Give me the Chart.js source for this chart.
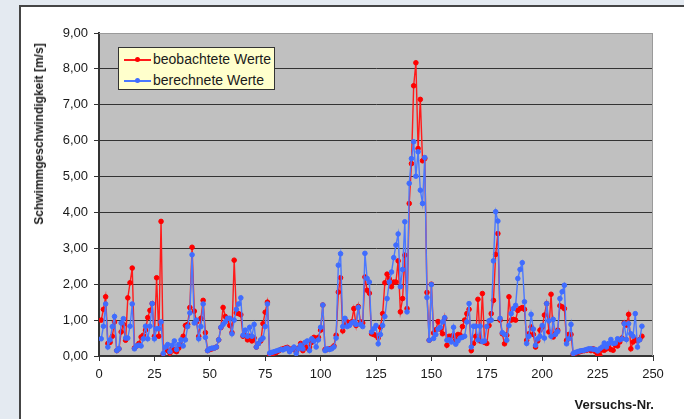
<!DOCTYPE html>
<html lang="de">
<head>
<meta charset="utf-8">
<script src="https://cdn.jsdelivr.net/npm/chart.js@4.4.1/dist/chart.umd.min.js"></script>
<style>
  html, body { margin:0; padding:0; }
  body { width:684px; height:419px; overflow:hidden; background:#e4eaf1; position:relative;
         font-family:'Liberation Sans', Arial, sans-serif; color:#1a1a1a; }
  #rahmen { position:absolute; left:19px; top:5px; width:720px; height:460px; background:#fff;
            border-left:2px solid #454545; border-top:2px solid #454545; }
  #chart { position:absolute; left:0; top:0; }
  #legende { position:absolute; left:118px; top:47px; width:155px; height:41px;
             background:#ffffcc; border:1px solid #333; }
  .eintrag { position:absolute; left:0; height:20px; width:155px; }
  .eintrag .linie { position:absolute; left:5px; top:9px; width:27px; height:1.5px; }
  .eintrag .punkt { position:absolute; left:16px; top:7px; width:5px; height:5px; border-radius:50%; }
  .eintrag span { position:absolute; left:34px; top:1px; font-size:14px; white-space:nowrap; }
  #ytitel { position:absolute; left:39px; top:134px; transform:translate(-50%,-50%) rotate(-90deg);
            font-weight:bold; font-size:12px; white-space:nowrap; }
  #xtitel { position:absolute; right:30px; top:397px; font-weight:bold; font-size:13px; white-space:nowrap; }
</style>
</head>
<body>
<div id="rahmen"></div>
<canvas id="chart" width="684" height="419"></canvas>
<div id="legende">
  <div class="eintrag" style="top:2px"><div class="linie" style="background:#ff1a1a"></div><div class="punkt" style="background:#ff0000"></div><span>beobachtete Werte</span></div>
  <div class="eintrag" style="top:23px"><div class="linie" style="background:#4a78ff"></div><div class="punkt" style="background:#3f6cff"></div><span>berechnete Werte</span></div>
</div>
<div id="ytitel">Schwimmgeschwindigkeit [m/s]</div>
<div id="xtitel">Versuchs-Nr.</div>

<script>
// Messreihen (Versuchs-Nr. 1 bis 245)
const ersterVersuch = 1;

const beobachtet = [
  1.00, 1.30, 1.65, 0.35, 0.38, 0.55, 0.95, 0.15, 0.20, 0.67,
  0.88, 0.44, 1.62, 2.04, 2.45, 0.22, 0.28, 0.35, 0.53, 0.58,
  0.72, 1.07, 1.27, 1.46, 0.55, 2.18, 0.55, 3.75, 0.05, 0.20,
  0.15, 0.08, 0.22, 0.15, 0.12, 0.22, 0.32, 0.55, 0.85, 0.88,
  1.35, 3.03, 1.25, 0.95, 0.55, 1.05, 1.55, 0.65, 0.15, 0.18,
  0.20, 0.22, 0.25, 0.45, 0.79, 1.35, 1.10, 1.02, 0.85, 0.65,
  2.67, 1.20, 1.18, 1.15, 0.55, 0.58, 0.45, 0.55, 0.42, 0.50,
  0.25, 0.35, 0.42, 0.90, 1.22, 1.50, 0.03, 0.06, 0.08, 0.10,
  0.14, 0.18, 0.20, 0.22, 0.24, 0.15, 0.20, 0.18, 0.12, 0.22,
  0.35, 0.15, 0.28, 0.22, 0.25, 0.38, 0.52, 0.48, 0.52, 0.72,
  1.42, 0.18, 0.18, 0.20, 0.22, 0.28, 0.58, 1.78, 2.18, 0.70,
  0.90, 0.95, 0.92, 0.95, 1.32, 0.85, 1.38, 0.95, 0.92, 2.20,
  1.83, 1.75, 0.62, 0.60, 0.57, 0.50, 0.80, 1.18, 2.04, 2.28,
  2.15, 1.93, 2.06, 2.06, 2.65, 1.23, 1.60, 2.81, 1.32, 4.25,
  5.36, 7.53, 8.17, 5.78, 7.15, 5.44, 5.50, 1.77, 0.44, 2.00,
  0.64, 0.73, 0.96, 0.75, 0.62, 1.05, 0.30, 0.55, 0.55, 0.58,
  0.45, 0.60, 0.58, 0.82, 1.00, 1.18, 1.30, 0.15, 0.35, 0.55,
  1.58, 0.42, 1.74, 0.38, 0.35, 0.85, 1.18, 1.55, 2.83, 3.41,
  1.00, 0.62, 0.34, 0.58, 1.65, 1.00, 1.02, 1.00, 1.27, 1.32,
  1.35, 1.30, 0.44, 0.62, 0.81, 0.60, 0.25, 0.42, 0.72, 0.80,
  1.14, 1.46, 0.67, 1.72, 0.53, 0.62, 0.72, 1.40, 1.37, 1.32,
  0.44, 0.60, 0.60, 0.05, 0.08, 0.10, 0.12, 0.14, 0.15, 0.16,
  0.18, 0.15, 0.20, 0.12, 0.05, 0.02, 0.17, 0.16, 0.20, 0.25,
  0.18, 0.16, 0.30, 0.28, 0.39, 0.50, 0.92, 0.86, 1.16, 0.20,
  0.39, 0.46, 0.42, 0.46, 0.55
];

const berechnet = [
  0.48, 0.83, 1.45, 0.25, 0.45, 0.82, 1.10, 0.15, 0.20, 0.92,
  1.04, 0.50, 0.50, 0.83, 1.45, 0.20, 0.28, 0.30, 0.28, 0.48,
  0.83, 0.48, 0.83, 1.46, 0.48, 0.76, 0.76, 0.95, 0.07, 0.25,
  0.32, 0.12, 0.30, 0.42, 0.18, 0.32, 0.45, 0.28, 0.45, 0.82,
  1.20, 2.82, 0.92, 1.00, 0.48, 0.82, 1.45, 0.52, 0.15, 0.20,
  0.22, 0.22, 0.25, 0.45, 0.80, 0.88, 0.95, 1.05, 1.05, 0.62,
  1.00, 1.30, 1.45, 1.62, 0.58, 0.72, 0.55, 0.80, 0.55, 0.88,
  0.25, 0.35, 0.45, 0.50, 0.82, 1.45, 0.08, 0.10, 0.12, 0.14,
  0.16, 0.18, 0.17, 0.20, 0.22, 0.12, 0.18, 0.25, 0.07, 0.20,
  0.30, 0.20, 0.38, 0.42, 0.15, 0.48, 0.42, 0.25, 0.45, 0.80,
  1.42, 0.15, 0.20, 0.18, 0.20, 0.25, 0.50, 2.53, 2.85, 0.82,
  1.05, 0.82, 0.85, 0.92, 0.95, 0.88, 1.35, 0.88, 0.82, 2.86,
  2.16, 2.06, 0.67, 0.76, 0.85, 0.34, 0.60, 0.85, 1.10, 1.60,
  2.06, 2.34, 2.74, 3.09, 3.40, 1.93, 2.41, 3.74, 1.23, 4.81,
  5.50, 5.97, 5.01, 5.69, 4.62, 4.25, 5.53, 1.63, 0.44, 1.99,
  0.49, 0.60, 0.75, 0.80, 0.95, 1.07, 0.44, 0.45, 0.39, 0.80,
  0.33, 0.42, 0.50, 0.52, 0.55, 0.95, 1.46, 0.25, 0.83, 0.83,
  0.45, 0.83, 0.40, 0.42, 0.82, 0.98, 1.00, 2.65, 4.02, 3.76,
  1.05, 0.65, 0.60, 0.44, 0.85, 1.18, 1.32, 1.41, 2.16, 2.41,
  2.60, 1.51, 0.35, 0.55, 1.16, 0.75, 0.30, 0.48, 0.55, 0.85,
  0.50, 1.46, 0.98, 0.55, 1.02, 0.60, 0.68, 1.60, 1.79, 1.97,
  0.34, 0.48, 0.88, 0.07, 0.10, 0.12, 0.14, 0.15, 0.16, 0.18,
  0.20, 0.20, 0.19, 0.18, 0.14, 0.20, 0.25, 0.36, 0.25, 0.35,
  0.46, 0.35, 0.36, 0.48, 0.45, 0.48, 0.90, 0.46, 0.90, 0.62,
  0.55, 1.18, 0.25, 0.45, 0.83
];

// Achsen
const xMin = 0, xMax = 250, xSchritt = 25;
const yMin = 0, yMax = 9, ySchritt = 1;

const versuche = beobachtet.map((_, i) => ersterVersuch + i);
const punkte = werte => werte.map((v, i) => ({ x: versuche[i], y: v }));

// Grauer Zeichnungsbereich wie in Excel
const plotHintergrund = {
  id: 'plotHintergrund',
  beforeDraw(chart) {
    const { ctx, chartArea: a } = chart;
    ctx.save();
    ctx.fillStyle = '#c0c0c0';
    ctx.fillRect(a.left, a.top, a.right - a.left, a.bottom - a.top);
    ctx.restore();
  },
  beforeDatasetsDraw(chart) {
    const { ctx, chartArea: a } = chart;
    ctx.save();
    ctx.strokeStyle = '#9a9a9a';
    ctx.lineWidth = 1;
    ctx.beginPath();
    ctx.moveTo(a.left, a.top + 0.5);
    ctx.lineTo(a.right - 0.5, a.top + 0.5);
    ctx.lineTo(a.right - 0.5, a.bottom);
    ctx.stroke();
    ctx.restore();
  }
};

const schrift = { family: "'Liberation Sans', Arial, sans-serif", size: 13 };

new Chart(document.getElementById('chart'), {
  type: 'line',
  data: {
    datasets: [
      {
        label: 'beobachtete Werte',
        data: punkte(beobachtet),
        borderColor: '#ff1a1a',
        backgroundColor: '#ff0000',
        pointBackgroundColor: '#ff0000',
        pointBorderColor: '#ff0000',
        borderWidth: 1.4,
        pointRadius: 2.3,
        pointBorderWidth: 1,
        tension: 0,
        order: 1
      },
      {
        label: 'berechnete Werte',
        data: punkte(berechnet),
        borderColor: '#4a78ff',
        backgroundColor: '#3f6cff',
        pointBackgroundColor: '#3f6cff',
        pointBorderColor: '#3f6cff',
        borderWidth: 1.4,
        pointRadius: 2.3,
        pointBorderWidth: 1,
        tension: 0,
        order: 0
      }
    ]
  },
  options: {
    responsive: false,
    animation: false,
    layout: { padding: { left: 0, top: 33, right: 31, bottom: 0 } },
    plugins: { legend: { display: false }, tooltip: { enabled: false } },
    scales: {
      x: {
        type: 'linear', min: xMin, max: xMax,
        afterFit: s => { s.height = 63; },
        border: { display: true, color: '#333', width: 2 },
        grid: { drawOnChartArea: false, drawTicks: true, tickLength: 5, tickColor: '#333' },
        ticks: { stepSize: xSchritt, padding: 6, color: '#1a1a1a', font: schrift, maxRotation: 0 }
      },
      y: {
        min: yMin, max: yMax,
        afterFit: s => { s.width = 99; },
        border: { display: true, color: '#333', width: 2 },
        grid: {
          color: c => c.tick && c.tick.value === yMax ? '#9a9a9a' : '#333',
          tickColor: '#333', tickLength: 5, lineWidth: 1
        },
        ticks: {
          stepSize: ySchritt, padding: 6, color: '#1a1a1a', font: schrift,
          callback: v => v.toFixed(2).replace('.', ',')
        }
      }
    }
  },
  plugins: [plotHintergrund]
});
</script>
</body>
</html>
